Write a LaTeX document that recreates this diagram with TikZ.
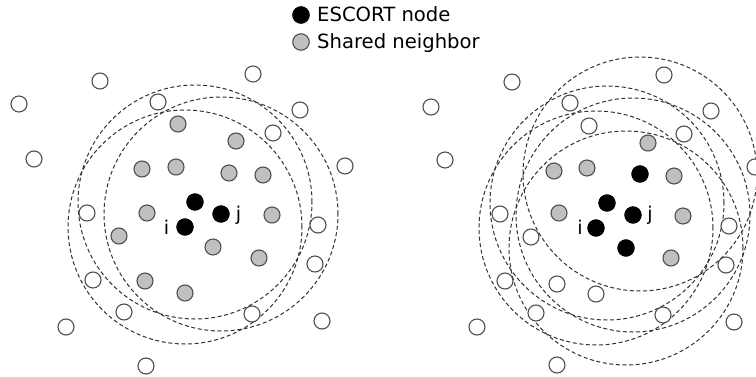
\documentclass[tikz,border=0pt]{standalone}
\usepackage{fontspec}
\setmainfont{DejaVu Sans}
\definecolor{rim}{HTML}{505050}
\definecolor{shared}{HTML}{C0C0C0}
\definecolor{rangeline}{HTML}{303030}
\begin{document}
\begin{tikzpicture}[x=1pt,y=-1pt,
  peer/.style={circle,draw=rim,line width=1.1pt,fill=white,minimum size=16pt,inner sep=0pt},
  sharednb/.style={peer,fill=shared},
  escort/.style={circle,draw=black,line width=1.1pt,fill=black,minimum size=16pt,inner sep=0pt},
  radiorange/.style={draw=rangeline,line width=1pt,dash pattern=on 4pt off 2.6pt},
  lbl/.style={inner sep=0pt,anchor=base,font=\fontsize{19}{22}\selectfont},
  legendtxt/.style={inner sep=0pt,anchor=base west,font=\fontsize{19.6}{22}\selectfont}]
\clip (0,0) rectangle (756,377);

% ---------- left panel: two ESCORT nodes and a helper ----------
\node[escort] (lk) at (195,202) {};
\node[escort] (lj) at (221,214) {};
\node[escort] (li) at (185,227) {};
\foreach \q in {lk,lj,li} \draw[radiorange] (\q.center) circle[radius=117pt];

\foreach \p [count=\n] in {(100,81),(253,74),(19,104),(158,102),(300,110),(273,133),
  (34,159),(345,166),(87,213),(318,225),(315,264),(93,280),(124,312),(252,314),
  (66,327),(322,321),(146,366)}
  \node[peer] (lw\n) at \p {};
\foreach \p [count=\n] in {(178,124),(236,141),(142,169),(176,167),(229,173),(263,175),
  (147,213),(272,215),(119,236),(213,247),(259,258),(145,281),(185,293)}
  \node[sharednb] (lg\n) at \p {};
\foreach \q in {lk,lj,li} \node[escort] at (\q) {};
\node[lbl] (lit) at (166.5,235) {i};
\node[lbl] (ljt) at (238.5,221) {j};

% ---------- right panel: five ESCORT nodes ----------
\node[escort] (ra) at (640,174) {};
\node[escort] (rb) at (607,203) {};
\node[escort] (rj) at (633,215) {};
\node[escort] (ri) at (596,228) {};
\node[escort] (re) at (626,248) {};
\foreach \q in {ra,rb,rj,ri,re} \draw[radiorange] (\q.center) circle[radius=117pt];

\foreach \p [count=\n] in {(664,75),(512,82),(431,107),(570,103),(711,111),(589,126),
  (684,134),(445,160),(755,167),(500,214),(531,237),(729,226),(505,281),(557,284),
  (596,294),(726,265),(536,313),(663,315),(734,322),(477,327),(557,365)}
  \node[peer] (rw\n) at \p {};
\foreach \p [count=\n] in {(648,143),(554,171),(587,168),(674,176),(559,213),(683,216),
  (671,258)}
  \node[sharednb] (rg\n) at \p {};
\foreach \q in {ra,rb,rj,ri,re} \node[escort] at (\q) {};
\node[lbl] (rit) at (580,235) {i};
\node[lbl] (rjt) at (650,221) {j};

% ---------- legend ----------
\node[escort,minimum size=16.5pt] (keyescort) at (301,15) {};
\node[legendtxt] (keyescorttxt) at (317,21.5) {ESCORT node};
\node[sharednb,minimum size=16.5pt] (keyshared) at (301,42) {};
\node[legendtxt] (keysharedtxt) at (317,49) {Shared neighbor};
\end{tikzpicture}
\end{document}
